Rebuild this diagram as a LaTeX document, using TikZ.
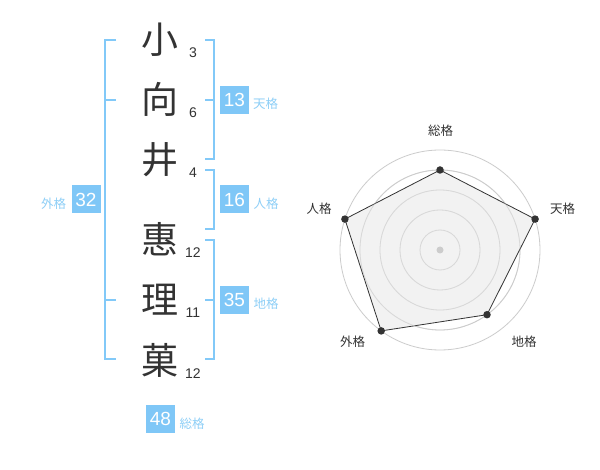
\documentclass[tikz,border=0pt]{standalone}
\usepackage{fontspec}
\setmainfont{Liberation Sans}
\newfontfamily\jpfont{Noto Sans CJK JP}
\definecolor{brk}{HTML}{82C9F8}
\definecolor{boxc}{HTML}{7FC7F7}
\definecolor{lab}{HTML}{8ECFF7}
\definecolor{ink}{HTML}{333333}
\definecolor{ring}{HTML}{CCCCCC}
\definecolor{area}{HTML}{F0F0F0}
\tikzset{
  kanji/.style={font=\fontsize{37}{37}\selectfont\jpfont, text=ink, anchor=base, inner sep=0pt},
  strokes/.style={font=\fontsize{14}{14}\selectfont, text=ink, anchor=base, inner sep=0pt},
  scorebox/.style={fill=boxc, text=white, minimum width=29pt, minimum height=28pt, inner sep=0pt, font=\fontsize{19}{19}\selectfont},
  kaku/.style={font=\fontsize{12.5}{12.5}\selectfont\jpfont, text=lab, inner sep=0pt},
  bracket/.style={draw=brk, line width=2pt},
  radlab/.style={font=\fontsize{12.5}{12.5}\selectfont\jpfont, text=ink, inner sep=0pt},
  ringline/.style={draw=ring, line width=0.8pt},
  vdot/.style={circle, fill=ink, inner sep=0pt, minimum size=7.5pt}
}
\begin{document}
\begin{tikzpicture}[x=1pt,y=-1pt]
\useasboundingbox (0,0) rectangle (600,470);
\fill[white] (0,0) rectangle (600,470);

% kanji
\node[kanji] (k1) at (160,54) {小};
\node[kanji] (k2) at (160,114) {向};
\node[kanji] (k3) at (160,174) {井};
\node[kanji] (k4) at (160,254) {惠};
\node[kanji] (k5) at (160,314) {理};
\node[kanji] (k6) at (160,374) {菓};

% stroke counts
\node[strokes] (n1) at (193,58) {3};
\node[strokes] (n2) at (193,118) {6};
\node[strokes] (n3) at (193,178) {4};
\node[strokes] (n4) at (193,258) {12};
\node[strokes] (n5) at (193,318) {11};
\node[strokes] (n6) at (193,378) {12};

% brackets
\draw[bracket] (116,40) -- (105,40) -- (105,359) -- (116,359);
\draw[bracket] (105,100) -- (116,100);
\draw[bracket] (105,300) -- (116,300);

\draw[bracket] (205,40) -- (214,40) -- (214,159) -- (205,159);
\draw[bracket] (205,100) -- (214,100);
\draw[bracket] (205,170) -- (214,170) -- (214,229) -- (205,229);
\draw[bracket] (205,240) -- (214,240) -- (214,359) -- (205,359);
\draw[bracket] (205,300) -- (214,300);

% score boxes
\node[scorebox] (ten) at (234.5,100) {13};
\node[scorebox] (jin) at (234.5,199.5) {16};
\node[scorebox] (chi) at (234.5,300) {35};
\node[scorebox] (gai) at (86,199.5) {32};
\node[scorebox] (sou) at (160.5,419) {48};

\node[kaku] (tenl) at (265.5,104) {天格};
\node[kaku] (jinl) at (266,204) {人格};
\node[kaku] (chil) at (266,304) {地格};
\node[kaku] (gail) at (53.5,204) {外格};
\node[kaku] (soul) at (192,423.5) {総格};

% radar chart
\coordinate (c) at (440,250);
\foreach \r in {20,40,60,80,100} \draw[ringline] (c) circle (\r);
\path (c) ++(0,-80) coordinate (ps)
      (c) ++(95.1,-30.9) coordinate (pt)
      (c) ++(47.0,64.7) coordinate (pc)
      (c) ++(-58.8,80.9) coordinate (pg)
      (c) ++(-95.1,-30.9) coordinate (pj);
\filldraw[fill=area, fill opacity=0.85, draw=ink, line width=0.8pt] (ps) -- (pt) -- (pc) -- (pg) -- (pj) -- cycle;
\foreach \r in {20,40,60,80} \draw[ringline, draw opacity=0.6] (c) circle (\r);
\node[circle, fill=ring, inner sep=0pt, minimum size=7pt] (cd) at (c) {};
\foreach \p in {ps,pt,pc,pg,pj} \node[vdot] at (\p) {};

\node[radlab] (rs) at (440.5,131) {総格};
\node[radlab] (rt) at (562.5,209) {天格};
\node[radlab] (rc) at (524,341.5) {地格};
\node[radlab] (rg) at (352.5,341.5) {外格};
\node[radlab] (rj) at (319,209) {人格};
\end{tikzpicture}
\end{document}
